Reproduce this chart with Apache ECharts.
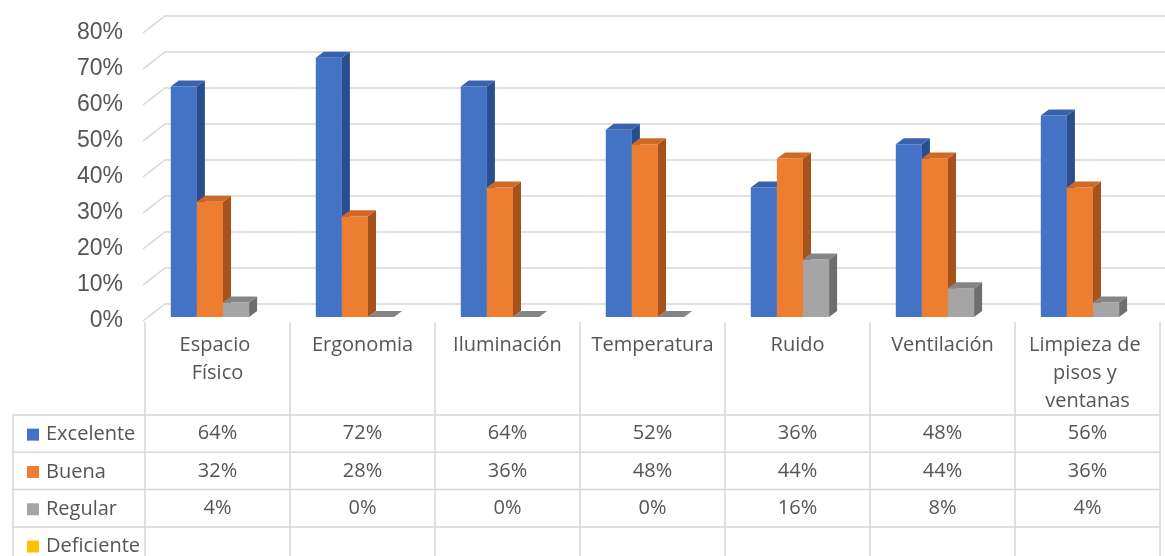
<!DOCTYPE html>
<html>
<head>
<meta charset="utf-8">
<title>Condiciones del ambiente de trabajo</title>
<style>
  html, body { margin: 0; padding: 0; background: #ffffff; }
  #chart { width: 1165px; height: 556px; }
</style>
<script src="https://cdn.jsdelivr.net/npm/echarts@6.0.0/dist/echarts.min.js"></script>
</head>
<body>
<div id="chart"></div>
<script>
// ---- data ----
const categories = ['Espacio Físico', 'Ergonomia', 'Iluminación', 'Temperatura', 'Ruido', 'Ventilación', 'Limpieza de pisos y ventanas'];
const seriesNames = ['Excelente', 'Buena', 'Regular', 'Deficiente'];
const excelente = [64, 72, 64, 52, 36, 48, 56];
const buena = [32, 28, 36, 48, 44, 44, 36];
const regular = [4, 0, 0, 0, 16, 8, 4];
const deficiente = [null, null, null, null, null, null, null];
const yTicks = [0, 10, 20, 30, 40, 50, 60, 70, 80];

const seriesValues = [excelente, buena, regular, deficiente];

// ---- styles ----
const faces = [
  { front: '#4472C4', side: '#2A4E8D', top: '#3862AE' },
  { front: '#ED7D31', side: '#A5521D', top: '#CF6925' },
  { front: '#A5A5A5', side: '#6E6E6E', top: '#858585' },
  { front: '#FFC000', side: '#B38600', top: '#E0A800' }
];
const TEXT = '#555555';
const RULE = '#d6d6d6';
const TABLE_FONT = "'Open Sans', 'Noto Sans', sans-serif";
const TABLE_SIZE = 20;

// 3D box geometry (px)
const DEPTH_X = 8, DEPTH_Y = 6;        // bar depth
const SHIFT_X = 5.5, SHIFT_Y = -4;     // bars sit slightly behind the front plane
const WALL_X = 22, WALL_Y = 17;        // back wall offset

// table layout (px)
const LEGEND_LEFT = 13;
const TABLE_TOP = 415;
const ROW_H = 37.3;

function seg(x1, y1, x2, y2) {
  return { type: 'line', shape: { x1, y1, x2, y2 }, style: { stroke: RULE, lineWidth: 1.5 }, silent: true };
}

function barRenderer(si) {
  return function (params, api) {
    const c = api.value(0), v = api.value(1);
    if (v == null || isNaN(v)) return;
    const band = api.size([1, 0])[0];
    const W = band * 0.18;
    const p0 = api.coord([c, 0]);
    const p1 = api.coord([c, v]);
    const x = p0[0] + SHIFT_X - 2 * W + si * W;
    const yb = p0[1] + SHIFT_Y;
    const yt = p1[1] + SHIFT_Y;
    const f = faces[si];
    return {
      type: 'group',
      children: [
        { type: 'rect', shape: { x, y: yt, width: W, height: yb - yt }, style: { fill: f.front } },
        { type: 'polygon', shape: { points: [[x + W, yb], [x + W + DEPTH_X, yb - DEPTH_Y], [x + W + DEPTH_X, yt - DEPTH_Y], [x + W, yt]] }, style: { fill: f.side } },
        { type: 'polygon', shape: { points: [[x, yt], [x + DEPTH_X, yt - DEPTH_Y], [x + W + DEPTH_X, yt - DEPTH_Y], [x + W, yt]] }, style: { fill: f.top } }
      ]
    };
  };
}

function wallRenderer(params, api) {
  const v = api.value(1);
  const cs = params.coordSys;
  const y = api.coord([0, v])[1];
  return {
    type: 'polyline',
    shape: { points: [[cs.x - 2, y], [cs.x - 2 + WALL_X, y - WALL_Y], [cs.x + cs.width + 10, y - WALL_Y]] },
    style: { stroke: RULE, lineWidth: 1.5, fill: null },
    silent: true
  };
}

function tableRenderer(params, api) {
  const i = api.value(0);
  const c = api.coord([i, 0]);
  const half = api.size([1, 0])[0] / 2;
  const left = c[0] - half, right = c[0] + half;
  const bottom = api.getHeight() + 10;
  const children = [seg(left, c[1] + 1, left, bottom)];
  if (i === categories.length - 1) children.push(seg(right, c[1] + 1, right, bottom));
  seriesValues.forEach(function (vals, r) {
    const y = TABLE_TOP + r * ROW_H;
    children.push(seg(left, y, right, y));
    const v = vals[i];
    if (v != null) {
      children.push({
        type: 'text',
        style: {
          text: v + '%', x: c[0], y: y + ROW_H / 2,
          align: 'center', verticalAlign: 'middle',
          fill: TEXT, font: TABLE_SIZE + 'px ' + TABLE_FONT
        },
        silent: true
      });
    }
  });
  return { type: 'group', children };
}

const chart = echarts.init(document.getElementById('chart'), null, { renderer: 'canvas' });

const gridLeft = 145;
const legendLines = [];
seriesNames.forEach(function (_, r) {
  const y = TABLE_TOP + r * ROW_H;
  legendLines.push({ type: 'line', shape: { x1: LEGEND_LEFT, y1: y, x2: gridLeft, y2: y }, style: { stroke: RULE, lineWidth: 1.5 }, silent: true });
});
legendLines.push({ type: 'line', shape: { x1: LEGEND_LEFT, y1: TABLE_TOP, x2: LEGEND_LEFT, y2: 570 }, style: { stroke: RULE, lineWidth: 1.5 }, silent: true });

const option = {
  backgroundColor: '#ffffff',
  animation: false,
  grid: { left: gridLeft, right: 5, top: 33, bottom: 235, containLabel: false },
  xAxis: {
    type: 'category',
    data: categories,
    axisLine: { show: false },
    axisTick: { show: false },
    splitLine: { show: false },
    axisLabel: {
      interval: 0,
      margin: 10,
      width: 124,
      overflow: 'break',
      color: TEXT,
      fontFamily: TABLE_FONT,
      fontSize: TABLE_SIZE,
      lineHeight: 28
    }
  },
  yAxis: {
    type: 'value',
    min: 0,
    max: 80,
    interval: 10,
    axisLine: { show: false },
    axisTick: { show: false },
    splitLine: { show: false },
    axisLabel: {
      formatter: '{value}%',
      margin: 22,
      color: TEXT,
      fontFamily: "'Liberation Sans', Arial, sans-serif",
      fontSize: 23
    }
  },
  legend: {
    orient: 'vertical',
    left: 22,
    top: TABLE_TOP - 4,
    height: 300,
    itemWidth: 12,
    itemHeight: 12,
    itemGap: 0,
    icon: 'rect',
    data: seriesNames,
    selectedMode: false,
    textStyle: {
      color: TEXT,
      fontFamily: TABLE_FONT,
      fontSize: TABLE_SIZE,
      lineHeight: ROW_H,
      padding: [0, 0, 0, 2]
    }
  },
  graphic: { elements: legendLines },
  series: [
    {
      type: 'custom',
      name: 'pared',
      renderItem: wallRenderer,
      data: yTicks.map(function (t) { return [0, t]; }),
      encode: { x: 0, y: 1 },
      z: 1,
      silent: true,
      tooltip: { show: false }
    }
  ].concat(seriesNames.map(function (name, si) {
    return {
      type: 'custom',
      name: name,
      renderItem: barRenderer(si),
      itemStyle: { color: faces[si].front },
      data: seriesValues[si].map(function (v, i) { return [i, v]; }),
      encode: { x: 0, y: 1 },
      z: 3
    };
  })).concat([
    {
      type: 'custom',
      name: 'tabla',
      renderItem: tableRenderer,
      data: categories.map(function (_, i) { return [i, 0]; }),
      encode: { x: 0, y: 1 },
      z: 2,
      silent: true
    }
  ])
};

chart.setOption(option);
</script>
</body>
</html>
